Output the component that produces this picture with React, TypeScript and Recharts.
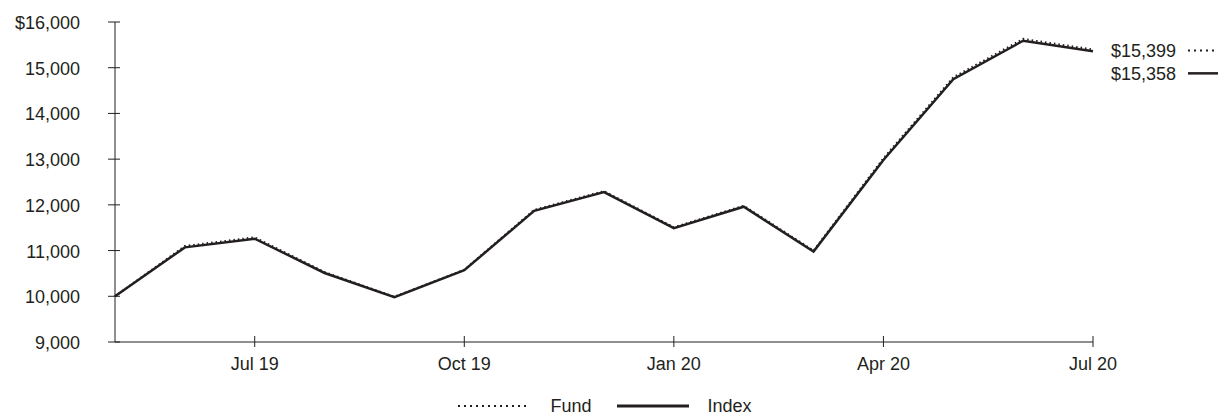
import { Line, LineChart, XAxis, YAxis, LabelList } from "recharts";

const months = [
  "May 19", "Jun 19", "Jul 19", "Aug 19", "Sep 19", "Oct 19", "Nov 19", "Dec 19",
  "Jan 20", "Feb 20", "Mar 20", "Apr 20", "May 20", "Jun 20", "Jul 20",
];
const fund = [
  10000, 11100, 11290, 10530, 9990, 10580, 11890, 12300,
  11510, 11980, 11000, 13020, 14790, 15630, 15399,
];
const index = [
  10000, 11070, 11260, 10510, 9980, 10570, 11870, 12280,
  11490, 11960, 10980, 12980, 14750, 15590, 15358,
];
const xTicks = ["Jul 19", "Oct 19", "Jan 20", "Apr 20", "Jul 20"];
const yTicks = [9000, 10000, 11000, 12000, 13000, 14000, 15000, 16000];

const rows = months.map((m, i) => ({ month: m, fund: fund[i], index: index[i] }));

const INK = "#231f20";
const FONT = "'Liberation Sans', Arial, sans-serif";
const fmt = (v: number) => v.toLocaleString("en-US");

function YTick({ x, y, payload }: any) {
  const v = payload.value as number;
  return (
    <g>
      <line x1={x - 7} x2={x + 5} y1={y} y2={y} stroke={INK} strokeWidth={1} />
      <text x={x - 35} y={y} dy={7} textAnchor="end" fill={INK} fontSize={18} fontFamily={FONT}>
        {v === 16000 ? `$${fmt(v)}` : fmt(v)}
      </text>
    </g>
  );
}

function XTick({ x, y, payload }: any) {
  return (
    <g>
      <line x1={x} x2={x} y1={y - 6} y2={y + 5} stroke={INK} strokeWidth={1} />
      <text x={x} y={y + 28} textAnchor="middle" fill={INK} fontSize={18} fontFamily={FONT}>
        {payload.value}
      </text>
    </g>
  );
}

// value tag at the right end of a series, with a short line sample
function endTag(dy: number, dash?: string) {
  return (props: any) => {
    const { x, y, value, index: i } = props;
    if (i !== months.length - 1) return null;
    return (
      <g>
        <text x={x + 18} y={y + dy} dy={7} fill={INK} fontSize={18} fontFamily={FONT}>
          {`$${fmt(value)}`}
        </text>
        <line
          x1={x + 95}
          x2={x + 125}
          y1={y + dy}
          y2={y + dy}
          stroke={INK}
          strokeWidth={dash ? 2 : 2.5}
          strokeDasharray={dash}
        />
      </g>
    );
  };
}

export default function App() {
  return (
    <div style={{ position: "absolute", left: 0, top: 0, width: 1219, height: 415, background: "#fff", overflow: "hidden" }}>
      <LineChart width={1219} height={395} data={rows} margin={{ top: 22, right: 126, bottom: 0, left: 0 }}>
        <XAxis
          dataKey="month"
          ticks={xTicks}
          interval={0}
          padding={{ left: 0, right: 0 }}
          height={53}
          tickSize={0}
          tickMargin={0}
          tick={<XTick />}
          axisLine={{ stroke: INK, strokeWidth: 1 }}
          tickLine={false}
        />
        <YAxis
          domain={[9000, 16000]}
          ticks={yTicks}
          width={115}
          tickSize={0}
          tickMargin={0}
          tick={<YTick />}
          axisLine={{ stroke: INK, strokeWidth: 1 }}
          tickLine={false}
        />
        <Line
          dataKey="index"
          stroke={INK}
          strokeWidth={2.5}
          dot={false}
          isAnimationActive={false}
        >
          <LabelList dataKey="index" content={endTag(22)} />
        </Line>
        <Line
          dataKey="fund"
          stroke={INK}
          strokeWidth={2}
          strokeDasharray="1.5 3"
          dot={false}
          isAnimationActive={false}
        >
          <LabelList dataKey="fund" content={endTag(1, "2 4")} />
        </Line>
      </LineChart>
      <div
        style={{
          position: "absolute",
          top: 397,
          left: -12,
          width: 1219,
          height: 18,
          display: "flex",
          justifyContent: "center",
          alignItems: "center",
          fontFamily: FONT,
          fontSize: 18,
          color: INK,
          lineHeight: "18px",
        }}
      >
        <svg width={72} height={6} style={{ marginLeft: 14 }}>
          <line x1={1} x2={71} y1={3} y2={3} stroke={INK} strokeWidth={2} strokeDasharray="2 4" />
        </svg>
        <span style={{ marginLeft: 21 }}>Fund</span>
        <svg width={72} height={6} style={{ marginLeft: 26 }}>
          <line x1={0} x2={72} y1={3} y2={3} stroke={INK} strokeWidth={3} />
        </svg>
        <span style={{ marginLeft: 18 }}>Index</span>
      </div>
    </div>
  );
}
